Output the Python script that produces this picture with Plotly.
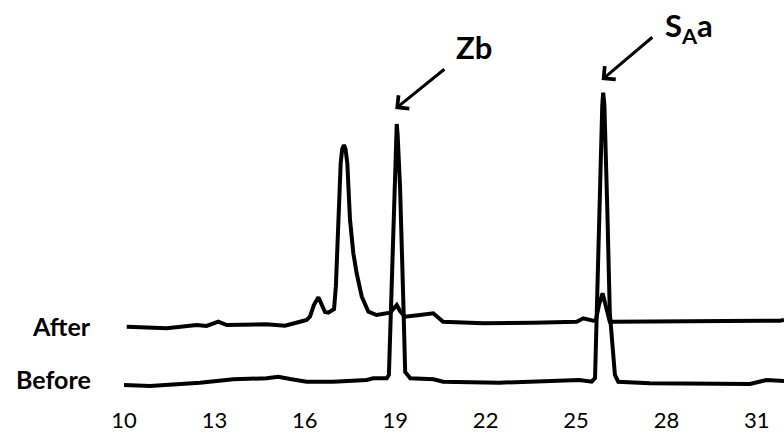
import plotly.graph_objects as go

# Retention time (min) and detector signal (arbitrary units)
before_time = [10.0, 10.86, 12.52, 13.63, 14.73, 15.12, 15.51, 16.06, 16.94, 18.05, 18.27, 18.72,
               18.79, 18.86, 18.96, 19.02, 19.05, 19.08, 19.16, 19.27, 19.33, 19.50,
               20.27, 20.59, 22.47, 25.11, 25.52, 25.63,
               25.68, 25.77, 25.87, 25.90, 25.94, 26.04, 26.12, 26.29, 26.40,
               27.45, 30.77, 31.32, 31.9]
before_signal = [20, 19, 22.3, 25.7, 26.7, 28.3, 26, 23.3, 23.3, 25, 26.7, 26.7,
                 30, 102, 218, 270, 281, 270, 218, 102, 33, 26.7,
                 25.7, 23.3, 22.3, 25, 23.3, 27,
                 92, 192, 300, 312.3, 300, 192, 92, 30, 23.3,
                 21.7, 21, 25, 24]

after_time = [10.09, 11.42, 12.41, 12.74, 13.13, 13.41, 14.73, 15.34, 15.84, 16.06, 16.17,
              16.30, 16.45, 16.57, 16.67, 16.78, 16.97, 17.03, 17.11, 17.19, 17.24,
              17.30, 17.35, 17.41, 17.50, 17.61, 17.72, 17.89, 18.11, 18.38, 18.83, 18.92,
              19.05, 19.16, 19.32, 19.82, 20.26, 20.59, 21.92, 23.58, 25.02, 25.24, 25.57,
              25.66, 25.76, 25.88, 25.99, 26.12, 26.23, 29.11, 31.77, 31.9]
after_signal = [78.3, 76.7, 80, 79, 83.3, 80, 80.7, 79.3, 83.3, 85, 88.3,
                100, 107.7, 100, 93, 92.3, 96, 118.3, 185, 241.7, 256,
                260, 256, 241.7, 185, 151.7, 131.7, 108.3, 93.3, 90, 92.3, 95,
                100, 94, 88.3, 90, 91.7, 83.3, 81.7, 82.3, 83.3, 86.7, 84.3,
                85, 100, 111.7, 100, 83.3, 83.3, 83.3, 84.3, 85]

trace_names = ["Before", "After"]
tick_values = [10, 13, 16, 19, 22, 25, 28, 31]
peak_labels = ["Zb", "S<sub>A</sub>a"]
peak_times = [19.05, 25.90]

FONT = "Lato, 'DejaVu Sans', sans-serif"

fig = go.Figure()
fig.add_trace(go.Scatter(x=before_time, y=before_signal, mode="lines", name=trace_names[0],
                         line=dict(color="black", width=4), showlegend=False, hoverinfo="skip"))
fig.add_trace(go.Scatter(x=after_time, y=after_signal, mode="lines", name=trace_names[1],
                         line=dict(color="black", width=4), showlegend=False, hoverinfo="skip"))

# Trace labels on the left
fig.add_annotation(xref="paper", yref="y", x=-0.047, y=26, xanchor="right", yanchor="middle",
                   text=trace_names[0], showarrow=False,
                   font=dict(family=FONT, size=25, color="black", weight="bold"))
fig.add_annotation(xref="paper", yref="y", x=-0.047, y=79, xanchor="right", yanchor="middle",
                   text=trace_names[1], showarrow=False,
                   font=dict(family=FONT, size=25, color="black", weight="bold"))

# Peak arrows
arrow_tails = [(20.68, 337), (27.58, 369)]
arrow_heads_v = [296, 325]
text_pos = [(21.61, 358), (28.75, 378)]
for lab, pt, tail, hv, tp in zip(peak_labels, peak_times, arrow_tails, arrow_heads_v, text_pos):
    fig.add_annotation(xref="x", yref="y", axref="x", ayref="y", x=pt - 0.05, y=hv,
                       ax=tail[0], ay=tail[1], text="", showarrow=True,
                       arrowhead=4, arrowsize=1.1, arrowwidth=3, arrowcolor="black",
                       standoff=0, startstandoff=0)
    fig.add_annotation(xref="x", yref="y", x=tp[0], y=tp[1], text=lab, showarrow=False,
                       xanchor="center", yanchor="middle",
                       font=dict(family=FONT, size=31, color="black", weight="bold"))

fig.update_xaxes(range=[10, 31.9], tickvals=tick_values, ticktext=[str(t) for t in tick_values],
                 showgrid=False, zeroline=False, showline=False, ticks="", automargin=False,
                 tickfont=dict(family=FONT, size=22, color="black"))
fig.update_yaxes(range=[0, 405], visible=False, showgrid=False, zeroline=False, automargin=False)

fig.update_layout(width=784, height=433, margin=dict(l=124, r=0, t=0, b=28),
                  paper_bgcolor="white", plot_bgcolor="white", showlegend=False)

fig.write_html("out.html", config={"displayModeBar": False},
               post_script="document.body.style.margin='0';document.body.style.padding='0';")
